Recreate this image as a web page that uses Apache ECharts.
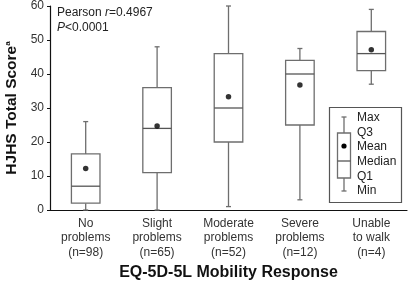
<!DOCTYPE html>
<html>
<head>
<meta charset="utf-8">
<script src="https://cdn.jsdelivr.net/npm/echarts@6/dist/echarts.min.js"></script>
<style>
  html, body { margin: 0; padding: 0; background: #fff; }
  #main { width: 408px; height: 282px; }
</style>
</head>
<body>
<div id="main"></div>
<script>
// categories and box statistics
var categories = ['No\nproblems\n(n=98)', 'Slight\nproblems\n(n=65)', 'Moderate\nproblems\n(n=52)', 'Severe\nproblems\n(n=12)', 'Unable\nto walk\n(n=4)'];
var minVals = [0, 0, 1, 3, 37];
var q1Vals = [2, 11, 20, 25, 41];
var medianVals = [7, 24, 30, 40, 46];
var q3Vals = [16.5, 36, 46, 44, 52.5];
var maxVals = [26, 48, 60, 47.5, 59];
var meanVals = [12.2, 24.7, 33.3, 36.8, 47.1];
var yTicks = [0, 10, 20, 30, 40, 50, 60];

var font = 'Liberation Sans, Arial, sans-serif';
var boxColor = '#6e6e6e';

var boxData = categories.map(function (c, i) {
    return [i, minVals[i], q1Vals[i], medianVals[i], q3Vals[i], maxVals[i]];
});
var meanData = categories.map(function (c, i) {
    return [i, meanVals[i]];
});

var chart = echarts.init(document.getElementById('main'));

function renderBox(params, api) {
    var idx = api.value(0);
    var bw = api.size([1, 0])[0] * 0.4;
    var pMin = api.coord([idx, api.value(1)]);
    var pQ1 = api.coord([idx, api.value(2)]);
    var pMed = api.coord([idx, api.value(3)]);
    var pQ3 = api.coord([idx, api.value(4)]);
    var pMax = api.coord([idx, api.value(5)]);
    var x = pMin[0];
    var st = { stroke: boxColor, lineWidth: 1.3, fill: null };
    return {
        type: 'group',
        children: [
            { type: 'line', shape: { x1: x, y1: pQ3[1], x2: x, y2: pMax[1] }, style: st },
            { type: 'line', shape: { x1: x, y1: pQ1[1], x2: x, y2: pMin[1] }, style: st },
            { type: 'line', shape: { x1: x - 2.5, y1: pMax[1], x2: x + 2.5, y2: pMax[1] }, style: st },
            { type: 'line', shape: { x1: x - 2.5, y1: pMin[1], x2: x + 2.5, y2: pMin[1] }, style: st },
            { type: 'rect', shape: { x: x - bw / 2, y: pQ3[1], width: bw, height: pQ1[1] - pQ3[1] }, style: { stroke: boxColor, lineWidth: 1.3, fill: '#fff' } },
            { type: 'line', shape: { x1: x - bw / 2, y1: pMed[1], x2: x + bw / 2, y2: pMed[1] }, style: { stroke: '#555', lineWidth: 1.3 } }
        ]
    };
}

// legend glyph (key), drawn in pixels
var lg = { x: 344, top: 117, q3: 133, med: 161, q1: 178, bot: 191, mean: 146 };
var keyStyle = { stroke: boxColor, lineWidth: 1.3, fill: null };
var keyLabels = [['Max', 118], ['Q3', 133], ['Mean', 147], ['Median', 162], ['Q1', 177], ['Min', 191]];

var option = {
    animation: false,
    grid: { left: 50, right: 1, top: 6, bottom: 72, outerBoundsMode: 'none' },
    xAxis: {
        type: 'category',
        data: categories,
        name: 'EQ-5D-5L Mobility Response',
        nameLocation: 'middle',
        nameGap: 54,
        nameTextStyle: { fontFamily: font, fontSize: 16, fontWeight: 'bold', color: '#111' },
        axisLine: { lineStyle: { color: '#111', width: 1.2 } },
        axisTick: { length: 3, lineStyle: { color: '#111' } },
        axisLabel: { fontFamily: font, fontSize: 12, color: '#333', lineHeight: 14.5, margin: 6, interval: 0 }
    },
    yAxis: {
        type: 'value',
        min: 0,
        max: 60,
        interval: 10,
        name: '{t|HJHS Total Score}{s|a}',
        nameLocation: 'middle',
        nameGap: 29,
        nameTextStyle: {
            rich: {
                t: { fontFamily: font, fontSize: 15.5, fontWeight: 'bold', color: '#111' },
                s: { fontFamily: font, fontSize: 8, fontWeight: 'bold', color: '#111', verticalAlign: 'top', padding: [0, 0, 8, 0] }
            }
        },
        splitLine: { show: false },
        axisLine: { show: true, lineStyle: { color: '#111', width: 1.2 } },
        axisTick: { show: true, length: 3, lineStyle: { color: '#111' } },
        axisLabel: {
            fontFamily: font, fontSize: 12, color: '#333', margin: 6,
            formatter: function (v) { return yTicks.indexOf(v) >= 0 ? String(v) : ''; }
        }
    },
    series: [
        {
            type: 'custom',
            renderItem: renderBox,
            data: boxData,
            encode: { x: 0, y: [1, 2, 3, 4, 5] },
            z: 2
        },
        {
            type: 'scatter',
            data: meanData,
            symbol: 'circle',
            symbolSize: 5.5,
            itemStyle: { color: '#000' },
            z: 3
        }
    ],
    graphic: [
        {
            type: 'text', left: 57, top: 5,
            style: {
                text: 'Pearson {i|r}=0.4967\n{i|P}<0.0001',
                font: '12px ' + font, fill: '#222', lineHeight: 15,
                rich: { i: { fontStyle: 'italic', fontFamily: font, fontSize: 12, fill: '#222' } }
            }
        },
        {
            type: 'group',
            children: [
                { type: 'rect', shape: { x: 329.5, y: 107.5, width: 72, height: 95 }, style: { stroke: '#555', lineWidth: 1.2, fill: '#fff' } },
                { type: 'line', shape: { x1: lg.x, y1: lg.top, x2: lg.x, y2: lg.q3 }, style: keyStyle },
                { type: 'line', shape: { x1: lg.x, y1: lg.q1, x2: lg.x, y2: lg.bot }, style: keyStyle },
                { type: 'line', shape: { x1: lg.x - 2.5, y1: lg.top, x2: lg.x + 2.5, y2: lg.top }, style: keyStyle },
                { type: 'line', shape: { x1: lg.x - 2.5, y1: lg.bot, x2: lg.x + 2.5, y2: lg.bot }, style: keyStyle },
                { type: 'rect', shape: { x: 337.5, y: lg.q3, width: 13, height: lg.q1 - lg.q3 }, style: keyStyle },
                { type: 'line', shape: { x1: 337.5, y1: lg.med, x2: 350.5, y2: lg.med }, style: { stroke: '#555', lineWidth: 1.3 } },
                { type: 'circle', shape: { cx: lg.x, cy: lg.mean, r: 2.6 }, style: { fill: '#000' } }
            ].concat(keyLabels.map(function (k) {
                return {
                    type: 'text', x: 357, y: k[1],
                    style: { text: k[0], font: '12px ' + font, fill: '#222', verticalAlign: 'middle' }
                };
            }))
        }
    ]
};

chart.setOption(option);
</script>
</body>
</html>
